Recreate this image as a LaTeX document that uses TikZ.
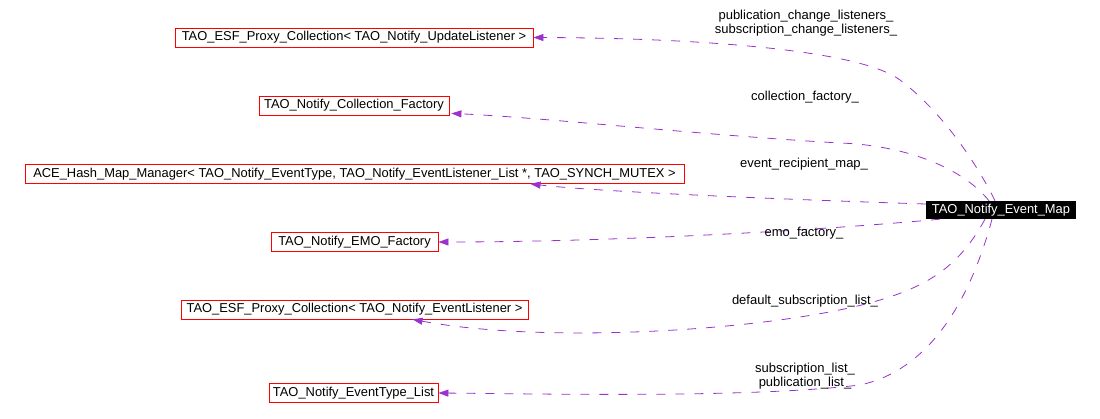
\documentclass[tikz,border=0pt]{standalone}
\usepackage{fontspec}
\setmainfont{Liberation Sans}
\usetikzlibrary{arrows.meta,calc}
\definecolor{edgec}{RGB}{154,50,205}
\begin{document}
\begin{tikzpicture}[x=1pt,y=-1pt,
  box/.style={draw=red, line width=0.8pt, minimum height=19pt, inner sep=0pt, font=\fontsize{12.9}{14}\selectfont},
  lbl/.style={font=\fontsize{13}{13.5}\selectfont, align=center, inner sep=0pt},
  dep/.style={draw=edgec, line width=0.8pt, dash pattern=on 9pt off 10pt, -{Triangle[length=10pt,width=7pt]}}]
\useasboundingbox (0,0) rectangle (1100,419);
\fill[white] (0,0) rectangle (1100,419);
\node[box, minimum width=358pt] (b1) at (354,37.5) {TAO\_ESF\_Proxy\_Collection< TAO\_Notify\_UpdateListener >};
\node[box, minimum width=190pt] (b2) at (354,105.5) {TAO\_Notify\_Collection\_Factory};
\node[box, minimum width=659pt] (b3) at (354.5,174) {ACE\_Hash\_Map\_Manager< TAO\_Notify\_EventType, TAO\_Notify\_EventListener\_List *, TAO\_SYNCH\_MUTEX >};
\node[box, minimum width=167pt] (b4) at (354.5,242) {TAO\_Notify\_EMO\_Factory};
\node[box, minimum width=347pt] (b5) at (354.5,309.5) {TAO\_ESF\_Proxy\_Collection< TAO\_Notify\_EventListener >};
\node[box, minimum width=169pt] (b6) at (353.5,393) {TAO\_Notify\_EventType\_List};
\node[fill=black, text=white, minimum width=150pt, minimum height=18pt, inner sep=0pt, font=\fontsize{12.9}{14}\selectfont] (t) at (1001,210) {TAO\_Notify\_Event\_Map};

\draw[dep] ($(t.north)+(-6,0)$) .. controls (975,160) and (940,110) .. (900,80) .. controls (860,50) and (700,38) .. (b1.east);
\draw[dep] ($(t.north)+(-12,0)$) .. controls (960,165) and (900,145) .. (840,143) .. controls (700,135) and (550,118) .. ($(b2.south east)+(2,-2)$);
\draw[dep] ($(t.west)+(0,-6)$) .. controls (800,200) and (600,192) .. ($(b3.south)+(176,0)$);
\draw[dep] ($(t.south west)+(14,0)$) .. controls (800,232) and (600,242) .. (b4.east);
\draw[dep] ($(t.south)+(-16,0)$) .. controls (960,265) and (930,285) .. (880,300) .. controls (780,330) and (550,345) .. ($(b5.south)+(58,0)$);
\draw[dep] ($(t.south)+(-9,0)$) .. controls (970,300) and (930,370) .. (860,385) .. controls (750,398) and (550,394) .. (b6.east);

\node[lbl] (l1) at (806,23) {publication\_change\_listeners\_\\subscription\_change\_listeners\_};
\node[lbl] (l2) at (805,97) {collection\_factory\_};
\node[lbl] (l3) at (804,164) {event\_recipient\_map\_};
\node[lbl] (l4) at (804,233) {emo\_factory\_};
\node[lbl] (l5) at (805,301) {default\_subscription\_list\_};
\node[lbl] (l6) at (805,376) {subscription\_list\_\\publication\_list\_};
\end{tikzpicture}
\end{document}
